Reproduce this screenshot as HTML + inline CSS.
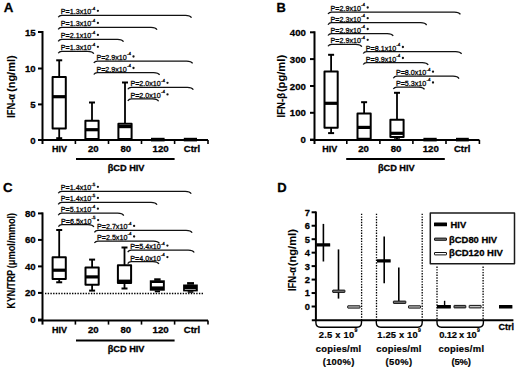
<!DOCTYPE html><html><head><meta charset="utf-8"><style>html,body{margin:0;padding:0;background:#fff;width:520px;height:371px;overflow:hidden;}text{stroke:#000;stroke-width:0.3px;}body{font-family:'Liberation Sans', sans-serif;position:relative;}</style></head><body><svg width="520" height="371" viewBox="0 0 520 371" style="position:absolute;left:0;top:0;font-family:'Liberation Sans', sans-serif">
<rect width="520" height="371" fill="#fff"/>
<g stroke-linejoin="round">
<text x="3.8" y="12.2" font-size="13.5" font-weight="bold" text-anchor="start" textLength="9.6" lengthAdjust="spacingAndGlyphs" >A</text>
<line x1="42.5" y1="31" x2="42.5" y2="144" stroke="#000" stroke-width="2" stroke-linecap="butt"/>
<line x1="38.0" y1="32" x2="42.5" y2="32" stroke="#000" stroke-width="2" />
<text x="35.6" y="35.5" font-size="9.8" font-weight="bold" text-anchor="end" textLength="10.7" lengthAdjust="spacingAndGlyphs" >15</text>
<line x1="38.0" y1="68.5" x2="42.5" y2="68.5" stroke="#000" stroke-width="2" />
<text x="35.6" y="72.0" font-size="9.8" font-weight="bold" text-anchor="end" textLength="10.7" lengthAdjust="spacingAndGlyphs" >10</text>
<line x1="38.0" y1="104.4" x2="42.5" y2="104.4" stroke="#000" stroke-width="2" />
<text x="35.6" y="107.9" font-size="9.8" font-weight="bold" text-anchor="end" textLength="5.35" lengthAdjust="spacingAndGlyphs" >5</text>
<line x1="38.0" y1="140" x2="42.5" y2="140" stroke="#000" stroke-width="2" />
<text x="35.6" y="143.5" font-size="9.8" font-weight="bold" text-anchor="end" textLength="5.35" lengthAdjust="spacingAndGlyphs" >0</text>
<line x1="38.0" y1="140" x2="208.0" y2="140" stroke="#000" stroke-width="2" />
<line x1="75.4" y1="140" x2="75.4" y2="144" stroke="#000" stroke-width="1.6" />
<line x1="108.5" y1="140" x2="108.5" y2="144" stroke="#000" stroke-width="1.6" />
<line x1="141.5" y1="140" x2="141.5" y2="144" stroke="#000" stroke-width="1.6" />
<line x1="174.6" y1="140" x2="174.6" y2="144" stroke="#000" stroke-width="1.6" />
<line x1="208.0" y1="140" x2="208.0" y2="144" stroke="#000" stroke-width="1.6" />
<text x="52.0" y="152" font-size="9.2" font-weight="bold" text-anchor="start" textLength="15.0" lengthAdjust="spacingAndGlyphs" >HIV</text>
<text x="88.0" y="152" font-size="9.2" font-weight="bold" text-anchor="start" textLength="10.7" lengthAdjust="spacingAndGlyphs" >20</text>
<text x="120.5" y="152" font-size="9.2" font-weight="bold" text-anchor="start" textLength="10.7" lengthAdjust="spacingAndGlyphs" >80</text>
<text x="152.5" y="152" font-size="9.2" font-weight="bold" text-anchor="start" textLength="16.2" lengthAdjust="spacingAndGlyphs" >120</text>
<text x="183.8" y="152" font-size="9.2" font-weight="bold" text-anchor="start" textLength="16.3" lengthAdjust="spacingAndGlyphs" >Ctrl</text>
<line x1="76.0" y1="159.0" x2="174.6" y2="159.0" stroke="#000" stroke-width="2" />
<text x="107.7" y="170.6" font-size="9.2" font-weight="bold" text-anchor="start" textLength="36.8" lengthAdjust="spacingAndGlyphs" >&#946;CD HIV</text>
<text transform="translate(14.7,117.8) rotate(-90)" x="0" y="0" font-size="10.0" font-weight="bold" style="stroke-width:0.1px" textLength="23.9" lengthAdjust="spacingAndGlyphs">IFN-&#945;</text>
<text transform="translate(14.7,92.0) rotate(-90)" x="0" y="0" font-size="10.0" font-weight="bold" style="stroke-width:0.1px" textLength="36.7" lengthAdjust="spacingAndGlyphs">(ng/ml)</text>
<line x1="59.2" y1="60.1" x2="59.2" y2="77.1" stroke="#000" stroke-width="1.8" />
<line x1="56.2" y1="60.300000000000004" x2="62.2" y2="60.300000000000004" stroke="#000" stroke-width="2" />
<line x1="59.2" y1="128.5" x2="59.2" y2="138.4" stroke="#000" stroke-width="1.8" />
<line x1="56.2" y1="138.20000000000002" x2="62.2" y2="138.20000000000002" stroke="#000" stroke-width="2" />
<rect x="52.6" y="77.1" width="13.2" height="51.4" fill="#fff" stroke="#000" stroke-width="2"/>
<line x1="52.6" y1="96.7" x2="65.8" y2="96.7" stroke="#000" stroke-width="3.2" stroke-linecap="butt"/>
<line x1="92.0" y1="102.3" x2="92.0" y2="120.8" stroke="#000" stroke-width="1.8" />
<line x1="89.0" y1="102.5" x2="95.0" y2="102.5" stroke="#000" stroke-width="2" />
<rect x="85.4" y="120.8" width="13.2" height="18.2" fill="#fff" stroke="#000" stroke-width="2"/>
<line x1="85.4" y1="129.7" x2="98.6" y2="129.7" stroke="#000" stroke-width="3.2" stroke-linecap="butt"/>
<line x1="125.0" y1="82.3" x2="125.0" y2="123.8" stroke="#000" stroke-width="1.8" />
<line x1="122.0" y1="82.5" x2="128.0" y2="82.5" stroke="#000" stroke-width="2" />
<rect x="118.4" y="123.8" width="13.2" height="15.2" fill="#fff" stroke="#000" stroke-width="2"/>
<line x1="118.4" y1="126.6" x2="131.6" y2="126.6" stroke="#000" stroke-width="3.2" stroke-linecap="butt"/>
<line x1="151" y1="139.6" x2="164.6" y2="139.6" stroke="#000" stroke-width="3.6" />
<line x1="183.8" y1="139.6" x2="197" y2="139.6" stroke="#000" stroke-width="3.6" />
<path d="M58.2,17.3 C59.0,15.9 60.0,15.3 61.8,15.3 L185.5,15.3 C188.9,15.3 190.5,15.8 191.5,17.7" fill="none" stroke="#111" stroke-width="1.25"/>
<text x="60.8" y="14.3" font-size="7.3" font-weight="normal" fill="#111" style="stroke-width:0.3px" textLength="30.4" lengthAdjust="spacingAndGlyphs">P=1.3x10</text>
<text x="91.3" y="9.7" font-size="4.4" font-weight="normal" fill="#111" style="stroke-width:0.3px" textLength="4" lengthAdjust="spacingAndGlyphs">-4</text>
<circle cx="97.9" cy="10.8" r="1.15" fill="#111"/>
<path d="M58.2,29.4 C59.0,28.0 60.0,27.4 61.8,27.4 L151.0,27.4 C154.4,27.4 156.0,27.9 157.0,29.8" fill="none" stroke="#111" stroke-width="1.25"/>
<text x="60.8" y="26.4" font-size="7.3" font-weight="normal" fill="#111" style="stroke-width:0.3px" textLength="30.4" lengthAdjust="spacingAndGlyphs">P=1.3x10</text>
<text x="91.3" y="21.8" font-size="4.4" font-weight="normal" fill="#111" style="stroke-width:0.3px" textLength="4" lengthAdjust="spacingAndGlyphs">-4</text>
<circle cx="97.9" cy="22.9" r="1.15" fill="#111"/>
<path d="M58.2,41.4 C59.0,40.0 60.0,39.4 61.8,39.4 L117.5,39.4 C120.9,39.4 122.5,39.9 123.5,41.8" fill="none" stroke="#111" stroke-width="1.25"/>
<text x="60.8" y="38.4" font-size="7.3" font-weight="normal" fill="#111" style="stroke-width:0.3px" textLength="30.4" lengthAdjust="spacingAndGlyphs">P=2.1x10</text>
<text x="91.3" y="33.8" font-size="4.4" font-weight="normal" fill="#111" style="stroke-width:0.3px" textLength="4" lengthAdjust="spacingAndGlyphs">-4</text>
<circle cx="97.9" cy="34.9" r="1.15" fill="#111"/>
<path d="M58.2,53.3 C59.0,51.9 60.0,51.3 61.8,51.3 L87.8,51.3 C91.2,51.3 92.8,51.8 93.8,53.7" fill="none" stroke="#111" stroke-width="1.25"/>
<text x="60.8" y="50.3" font-size="7.3" font-weight="normal" fill="#111" style="stroke-width:0.3px" textLength="30.4" lengthAdjust="spacingAndGlyphs">P=1.3x10</text>
<text x="91.3" y="45.7" font-size="4.4" font-weight="normal" fill="#111" style="stroke-width:0.3px" textLength="4" lengthAdjust="spacingAndGlyphs">-4</text>
<circle cx="97.9" cy="46.8" r="1.15" fill="#111"/>
<path d="M93.8,63.0 C94.6,61.6 95.6,61.0 97.4,61.0 L186.6,61.0 C190.0,61.0 191.6,61.5 192.6,63.4" fill="none" stroke="#111" stroke-width="1.25"/>
<text x="96.4" y="60.0" font-size="7.3" font-weight="normal" fill="#111" style="stroke-width:0.3px" textLength="30.4" lengthAdjust="spacingAndGlyphs">P=2.9x10</text>
<text x="126.9" y="55.4" font-size="4.4" font-weight="normal" fill="#111" style="stroke-width:0.3px" textLength="4" lengthAdjust="spacingAndGlyphs">-4</text>
<circle cx="133.5" cy="56.5" r="1.15" fill="#111"/>
<path d="M93.8,74.5 C94.6,73.1 95.6,72.5 97.4,72.5 L153.6,72.5 C157.0,72.5 158.6,73.0 159.6,74.9" fill="none" stroke="#111" stroke-width="1.25"/>
<text x="96.4" y="71.5" font-size="7.3" font-weight="normal" fill="#111" style="stroke-width:0.3px" textLength="30.4" lengthAdjust="spacingAndGlyphs">P=2.9x10</text>
<text x="126.9" y="66.9" font-size="4.4" font-weight="normal" fill="#111" style="stroke-width:0.3px" textLength="4" lengthAdjust="spacingAndGlyphs">-4</text>
<circle cx="133.5" cy="68.0" r="1.15" fill="#111"/>
<path d="M127.8,89.3 C128.6,87.9 129.6,87.3 131.4,87.3 L187.3,87.3 C190.7,87.3 192.3,87.8 193.3,89.7" fill="none" stroke="#111" stroke-width="1.25"/>
<text x="130.4" y="86.3" font-size="7.3" font-weight="normal" fill="#111" style="stroke-width:0.3px" textLength="30.4" lengthAdjust="spacingAndGlyphs">P=2.0x10</text>
<text x="160.9" y="81.7" font-size="4.4" font-weight="normal" fill="#111" style="stroke-width:0.3px" textLength="4" lengthAdjust="spacingAndGlyphs">-4</text>
<circle cx="167.5" cy="82.8" r="1.15" fill="#111"/>
<path d="M127.8,100.9 C128.6,99.5 129.6,98.9 131.4,98.9 L152.6,98.9 C156.0,98.9 157.6,99.4 158.6,101.3" fill="none" stroke="#111" stroke-width="1.25"/>
<text x="130.4" y="97.9" font-size="7.3" font-weight="normal" fill="#111" style="stroke-width:0.3px" textLength="30.4" lengthAdjust="spacingAndGlyphs">P=2.0x10</text>
<text x="160.9" y="93.3" font-size="4.4" font-weight="normal" fill="#111" style="stroke-width:0.3px" textLength="4" lengthAdjust="spacingAndGlyphs">-4</text>
<circle cx="167.5" cy="94.4" r="1.15" fill="#111"/>
<text x="276.4" y="12.2" font-size="13.5" font-weight="bold" text-anchor="start" textLength="9.3" lengthAdjust="spacingAndGlyphs" >B</text>
<line x1="314.5" y1="31.299999999999997" x2="314.5" y2="144" stroke="#000" stroke-width="2" stroke-linecap="butt"/>
<line x1="310.0" y1="32.3" x2="314.5" y2="32.3" stroke="#000" stroke-width="2" />
<text x="305.9" y="35.8" font-size="9.8" font-weight="bold" text-anchor="end" textLength="16.049999999999997" lengthAdjust="spacingAndGlyphs" >400</text>
<line x1="310.0" y1="59.1" x2="314.5" y2="59.1" stroke="#000" stroke-width="2" />
<text x="305.9" y="62.6" font-size="9.8" font-weight="bold" text-anchor="end" textLength="16.049999999999997" lengthAdjust="spacingAndGlyphs" >300</text>
<line x1="310.0" y1="86" x2="314.5" y2="86" stroke="#000" stroke-width="2" />
<text x="305.9" y="89.5" font-size="9.8" font-weight="bold" text-anchor="end" textLength="16.049999999999997" lengthAdjust="spacingAndGlyphs" >200</text>
<line x1="310.0" y1="112.8" x2="314.5" y2="112.8" stroke="#000" stroke-width="2" />
<text x="305.9" y="116.3" font-size="9.8" font-weight="bold" text-anchor="end" textLength="16.049999999999997" lengthAdjust="spacingAndGlyphs" >100</text>
<line x1="310.0" y1="139.6" x2="314.5" y2="139.6" stroke="#000" stroke-width="2" />
<text x="305.9" y="143.1" font-size="9.8" font-weight="bold" text-anchor="end" textLength="5.35" lengthAdjust="spacingAndGlyphs" >0</text>
<line x1="310.0" y1="140" x2="479.4" y2="140" stroke="#000" stroke-width="2" />
<line x1="346.79999999999995" y1="140" x2="346.79999999999995" y2="144" stroke="#000" stroke-width="1.6" />
<line x1="379.9" y1="140" x2="379.9" y2="144" stroke="#000" stroke-width="1.6" />
<line x1="412.9" y1="140" x2="412.9" y2="144" stroke="#000" stroke-width="1.6" />
<line x1="446.0" y1="140" x2="446.0" y2="144" stroke="#000" stroke-width="1.6" />
<line x1="479.4" y1="140" x2="479.4" y2="144" stroke="#000" stroke-width="1.6" />
<text x="322.2" y="152" font-size="9.2" font-weight="bold" text-anchor="start" textLength="15.0" lengthAdjust="spacingAndGlyphs" >HIV</text>
<text x="358.2" y="152" font-size="9.2" font-weight="bold" text-anchor="start" textLength="10.7" lengthAdjust="spacingAndGlyphs" >20</text>
<text x="390.7" y="152" font-size="9.2" font-weight="bold" text-anchor="start" textLength="10.7" lengthAdjust="spacingAndGlyphs" >80</text>
<text x="422.7" y="152" font-size="9.2" font-weight="bold" text-anchor="start" textLength="16.2" lengthAdjust="spacingAndGlyphs" >120</text>
<text x="454.0" y="152" font-size="9.2" font-weight="bold" text-anchor="start" textLength="16.3" lengthAdjust="spacingAndGlyphs" >Ctrl</text>
<line x1="346.2" y1="159.0" x2="444.8" y2="159.0" stroke="#000" stroke-width="2" />
<text x="377.9" y="170.6" font-size="9.2" font-weight="bold" text-anchor="start" textLength="36.8" lengthAdjust="spacingAndGlyphs" >&#946;CD HIV</text>
<text transform="translate(284.8,117.5) rotate(-90)" x="0" y="0" font-size="10.0" font-weight="bold" style="stroke-width:0.1px" textLength="24.6" lengthAdjust="spacingAndGlyphs">IFN-&#946;</text>
<text transform="translate(284.8,92.1) rotate(-90)" x="0" y="0" font-size="10.0" font-weight="bold" style="stroke-width:0.1px" textLength="37.2" lengthAdjust="spacingAndGlyphs">(pg/ml)</text>
<line x1="331.1" y1="54.6" x2="331.1" y2="71.5" stroke="#000" stroke-width="1.8" />
<line x1="328.1" y1="54.800000000000004" x2="334.1" y2="54.800000000000004" stroke="#000" stroke-width="2" />
<line x1="331.1" y1="127.7" x2="331.1" y2="133.3" stroke="#000" stroke-width="1.8" />
<line x1="328.1" y1="133.10000000000002" x2="334.1" y2="133.10000000000002" stroke="#000" stroke-width="2" />
<rect x="324.5" y="71.5" width="13.2" height="56.2" fill="#fff" stroke="#000" stroke-width="2"/>
<line x1="324.5" y1="103.3" x2="337.70000000000005" y2="103.3" stroke="#000" stroke-width="3.2" stroke-linecap="butt"/>
<line x1="364.1" y1="102" x2="364.1" y2="113.5" stroke="#000" stroke-width="1.8" />
<line x1="361.1" y1="102.2" x2="367.1" y2="102.2" stroke="#000" stroke-width="2" />
<rect x="357.5" y="113.5" width="13.2" height="25.3" fill="#fff" stroke="#000" stroke-width="2"/>
<line x1="357.5" y1="127.4" x2="370.70000000000005" y2="127.4" stroke="#000" stroke-width="3.2" stroke-linecap="butt"/>
<line x1="397.0" y1="92.6" x2="397.0" y2="119.8" stroke="#000" stroke-width="1.8" />
<line x1="394.0" y1="92.8" x2="400.0" y2="92.8" stroke="#000" stroke-width="2" />
<line x1="397.0" y1="136.9" x2="397.0" y2="139.5" stroke="#000" stroke-width="1.8" />
<line x1="394.0" y1="139.3" x2="400.0" y2="139.3" stroke="#000" stroke-width="2" />
<rect x="390.4" y="119.8" width="13.2" height="17.1" fill="#fff" stroke="#000" stroke-width="2"/>
<line x1="390.4" y1="133.3" x2="403.6" y2="133.3" stroke="#000" stroke-width="3.2" stroke-linecap="butt"/>
<line x1="423.4" y1="139.6" x2="436.7" y2="139.6" stroke="#000" stroke-width="3.6" />
<line x1="456" y1="139.6" x2="468.8" y2="139.6" stroke="#000" stroke-width="3.6" />
<path d="M328.0,14.0 C328.8,12.6 329.8,12.0 331.6,12.0 L454.4,12.0 C457.8,12.0 459.4,12.5 460.4,14.4" fill="none" stroke="#111" stroke-width="1.25"/>
<text x="330.6" y="11.0" font-size="7.3" font-weight="normal" fill="#111" style="stroke-width:0.3px" textLength="30.4" lengthAdjust="spacingAndGlyphs">P=2.9x10</text>
<text x="361.1" y="6.4" font-size="4.4" font-weight="normal" fill="#111" style="stroke-width:0.3px" textLength="4" lengthAdjust="spacingAndGlyphs">-4</text>
<circle cx="367.7" cy="7.5" r="1.15" fill="#111"/>
<path d="M328.0,24.7 C328.8,23.3 329.8,22.7 331.6,22.7 L420.6,22.7 C424.0,22.7 425.6,23.2 426.6,25.1" fill="none" stroke="#111" stroke-width="1.25"/>
<text x="330.6" y="21.7" font-size="7.3" font-weight="normal" fill="#111" style="stroke-width:0.3px" textLength="30.4" lengthAdjust="spacingAndGlyphs">P=2.3x10</text>
<text x="361.1" y="17.1" font-size="4.4" font-weight="normal" fill="#111" style="stroke-width:0.3px" textLength="4" lengthAdjust="spacingAndGlyphs">-4</text>
<circle cx="367.7" cy="18.2" r="1.15" fill="#111"/>
<path d="M328.0,35.5 C328.8,34.1 329.8,33.5 331.6,33.5 L387.2,33.5 C390.6,33.5 392.2,34.0 393.2,35.9" fill="none" stroke="#111" stroke-width="1.25"/>
<text x="330.6" y="32.5" font-size="7.3" font-weight="normal" fill="#111" style="stroke-width:0.3px" textLength="30.4" lengthAdjust="spacingAndGlyphs">P=2.9x10</text>
<text x="361.1" y="27.9" font-size="4.4" font-weight="normal" fill="#111" style="stroke-width:0.3px" textLength="4" lengthAdjust="spacingAndGlyphs">-4</text>
<circle cx="367.7" cy="29.0" r="1.15" fill="#111"/>
<path d="M328.0,46.3 C328.8,44.9 329.8,44.3 331.6,44.3 L355.8,44.3 C359.2,44.3 360.8,44.8 361.8,46.7" fill="none" stroke="#111" stroke-width="1.25"/>
<text x="330.6" y="43.3" font-size="7.3" font-weight="normal" fill="#111" style="stroke-width:0.3px" textLength="30.4" lengthAdjust="spacingAndGlyphs">P=2.9x10</text>
<text x="361.1" y="38.7" font-size="4.4" font-weight="normal" fill="#111" style="stroke-width:0.3px" textLength="4" lengthAdjust="spacingAndGlyphs">-4</text>
<circle cx="367.7" cy="39.8" r="1.15" fill="#111"/>
<path d="M363.2,53.5 C364.0,52.1 365.0,51.5 366.8,51.5 L455.6,51.5 C459.0,51.5 460.6,52.0 461.6,53.9" fill="none" stroke="#111" stroke-width="1.25"/>
<text x="365.8" y="50.5" font-size="7.3" font-weight="normal" fill="#111" style="stroke-width:0.3px" textLength="30.4" lengthAdjust="spacingAndGlyphs">P=8.1x10</text>
<text x="396.3" y="45.9" font-size="4.4" font-weight="normal" fill="#111" style="stroke-width:0.3px" textLength="4" lengthAdjust="spacingAndGlyphs">-4</text>
<circle cx="402.9" cy="47.0" r="1.15" fill="#111"/>
<path d="M363.2,64.5 C364.0,63.1 365.0,62.5 366.8,62.5 L422.2,62.5 C425.6,62.5 427.2,63.0 428.2,64.9" fill="none" stroke="#111" stroke-width="1.25"/>
<text x="365.8" y="61.5" font-size="7.3" font-weight="normal" fill="#111" style="stroke-width:0.3px" textLength="30.4" lengthAdjust="spacingAndGlyphs">P=9.9x10</text>
<text x="396.3" y="56.9" font-size="4.4" font-weight="normal" fill="#111" style="stroke-width:0.3px" textLength="4" lengthAdjust="spacingAndGlyphs">-4</text>
<circle cx="402.9" cy="58.0" r="1.15" fill="#111"/>
<path d="M393.3,78.2 C394.1,76.8 395.1,76.2 396.9,76.2 L453.0,76.2 C456.4,76.2 458.0,76.7 459.0,78.6" fill="none" stroke="#111" stroke-width="1.25"/>
<text x="395.9" y="75.2" font-size="7.3" font-weight="normal" fill="#111" style="stroke-width:0.3px" textLength="30.4" lengthAdjust="spacingAndGlyphs">P=8.0x10</text>
<text x="426.4" y="70.6" font-size="4.4" font-weight="normal" fill="#111" style="stroke-width:0.3px" textLength="4" lengthAdjust="spacingAndGlyphs">-4</text>
<circle cx="433.0" cy="71.7" r="1.15" fill="#111"/>
<path d="M393.3,89.0 C394.1,87.6 395.1,87.0 396.9,87.0 L418.5,87.0 C421.9,87.0 423.5,87.5 424.5,89.4" fill="none" stroke="#111" stroke-width="1.25"/>
<text x="395.9" y="86.0" font-size="7.3" font-weight="normal" fill="#111" style="stroke-width:0.3px" textLength="30.4" lengthAdjust="spacingAndGlyphs">P=5.3x10</text>
<text x="426.4" y="81.4" font-size="4.4" font-weight="normal" fill="#111" style="stroke-width:0.3px" textLength="4" lengthAdjust="spacingAndGlyphs">-4</text>
<circle cx="433.0" cy="82.5" r="1.15" fill="#111"/>
<text x="3.1" y="192.1" font-size="13.5" font-weight="bold" text-anchor="start" textLength="9.6" lengthAdjust="spacingAndGlyphs" >C</text>
<line x1="42.5" y1="212.4" x2="42.5" y2="324.6" stroke="#000" stroke-width="2" stroke-linecap="butt"/>
<line x1="38.0" y1="213.4" x2="42.5" y2="213.4" stroke="#000" stroke-width="2" />
<text x="35.6" y="216.9" font-size="9.8" font-weight="bold" text-anchor="end" textLength="10.7" lengthAdjust="spacingAndGlyphs" >80</text>
<line x1="38.0" y1="239.9" x2="42.5" y2="239.9" stroke="#000" stroke-width="2" />
<text x="35.6" y="243.4" font-size="9.8" font-weight="bold" text-anchor="end" textLength="10.7" lengthAdjust="spacingAndGlyphs" >60</text>
<line x1="38.0" y1="266.4" x2="42.5" y2="266.4" stroke="#000" stroke-width="2" />
<text x="35.6" y="269.9" font-size="9.8" font-weight="bold" text-anchor="end" textLength="10.7" lengthAdjust="spacingAndGlyphs" >40</text>
<line x1="38.0" y1="292.9" x2="42.5" y2="292.9" stroke="#000" stroke-width="2" />
<text x="35.6" y="296.4" font-size="9.8" font-weight="bold" text-anchor="end" textLength="10.7" lengthAdjust="spacingAndGlyphs" >20</text>
<line x1="38.0" y1="319.6" x2="42.5" y2="319.6" stroke="#000" stroke-width="2" />
<text x="35.6" y="323.1" font-size="9.8" font-weight="bold" text-anchor="end" textLength="5.35" lengthAdjust="spacingAndGlyphs" >0</text>
<line x1="38.0" y1="320.6" x2="208.0" y2="320.6" stroke="#000" stroke-width="2" />
<line x1="75.4" y1="320.6" x2="75.4" y2="324.6" stroke="#000" stroke-width="1.6" />
<line x1="108.5" y1="320.6" x2="108.5" y2="324.6" stroke="#000" stroke-width="1.6" />
<line x1="141.5" y1="320.6" x2="141.5" y2="324.6" stroke="#000" stroke-width="1.6" />
<line x1="174.6" y1="320.6" x2="174.6" y2="324.6" stroke="#000" stroke-width="1.6" />
<line x1="208.0" y1="320.6" x2="208.0" y2="324.6" stroke="#000" stroke-width="1.6" />
<text x="52.0" y="332.6" font-size="9.2" font-weight="bold" text-anchor="start" textLength="15.0" lengthAdjust="spacingAndGlyphs" >HIV</text>
<text x="88.0" y="332.6" font-size="9.2" font-weight="bold" text-anchor="start" textLength="10.7" lengthAdjust="spacingAndGlyphs" >20</text>
<text x="120.5" y="332.6" font-size="9.2" font-weight="bold" text-anchor="start" textLength="10.7" lengthAdjust="spacingAndGlyphs" >80</text>
<text x="152.5" y="332.6" font-size="9.2" font-weight="bold" text-anchor="start" textLength="16.2" lengthAdjust="spacingAndGlyphs" >120</text>
<text x="183.8" y="332.6" font-size="9.2" font-weight="bold" text-anchor="start" textLength="16.3" lengthAdjust="spacingAndGlyphs" >Ctrl</text>
<line x1="76.0" y1="340.6" x2="174.6" y2="340.6" stroke="#000" stroke-width="2" />
<text x="107.7" y="352.2" font-size="9.2" font-weight="bold" text-anchor="start" textLength="36.8" lengthAdjust="spacingAndGlyphs" >&#946;CD HIV</text>
<text transform="translate(14.6,308.4) rotate(-90)" x="0" y="0" font-size="10.0" font-weight="bold" style="stroke-width:0.1px" textLength="38.6" lengthAdjust="spacingAndGlyphs">KYN/TRP</text>
<text transform="translate(14.6,268.3) rotate(-90)" x="0" y="0" font-size="10.0" font-weight="bold" style="stroke-width:0.1px" textLength="55.5" lengthAdjust="spacingAndGlyphs">(&#956;mol/mmol)</text>
<line x1="45" y1="293.4" x2="203.5" y2="293.4" stroke="#000" stroke-width="1.5" stroke-dasharray="1.4 1.3"/>
<line x1="59.2" y1="229.8" x2="59.2" y2="257.2" stroke="#000" stroke-width="1.8" />
<line x1="56.2" y1="230.0" x2="62.2" y2="230.0" stroke="#000" stroke-width="2" />
<line x1="59.2" y1="279" x2="59.2" y2="282.5" stroke="#000" stroke-width="1.8" />
<line x1="56.2" y1="282.3" x2="62.2" y2="282.3" stroke="#000" stroke-width="2" />
<rect x="52.6" y="257.2" width="13.2" height="21.8" fill="#fff" stroke="#000" stroke-width="2"/>
<line x1="52.6" y1="270.2" x2="65.8" y2="270.2" stroke="#000" stroke-width="3.2" stroke-linecap="butt"/>
<line x1="92.1" y1="259.4" x2="92.1" y2="267.6" stroke="#000" stroke-width="1.8" />
<line x1="89.1" y1="259.59999999999997" x2="95.1" y2="259.59999999999997" stroke="#000" stroke-width="2" />
<line x1="92.1" y1="284.7" x2="92.1" y2="290.8" stroke="#000" stroke-width="1.8" />
<line x1="89.1" y1="290.6" x2="95.1" y2="290.6" stroke="#000" stroke-width="2" />
<rect x="85.5" y="267.6" width="13.2" height="17.1" fill="#fff" stroke="#000" stroke-width="2"/>
<line x1="85.5" y1="276.9" x2="98.69999999999999" y2="276.9" stroke="#000" stroke-width="3.2" stroke-linecap="butt"/>
<line x1="124.5" y1="247.3" x2="124.5" y2="265.2" stroke="#000" stroke-width="1.8" />
<line x1="121.5" y1="247.5" x2="127.5" y2="247.5" stroke="#000" stroke-width="2" />
<line x1="124.5" y1="283" x2="124.5" y2="288.7" stroke="#000" stroke-width="1.8" />
<line x1="121.5" y1="288.5" x2="127.5" y2="288.5" stroke="#000" stroke-width="2" />
<rect x="117.9" y="265.2" width="13.2" height="17.8" fill="#fff" stroke="#000" stroke-width="2"/>
<line x1="117.9" y1="281.2" x2="131.1" y2="281.2" stroke="#000" stroke-width="3.2" stroke-linecap="butt"/>
<rect x="149.8" y="280.3" width="15.0" height="10.4" fill="#000" />
<rect x="154.2" y="278.3" width="6.4" height="2.5" fill="#000" />
<rect x="154.8" y="290.5" width="5.2" height="1.8" fill="#000" />
<rect x="151.9" y="283.0" width="11.0" height="3.4" fill="#fff" />
<rect x="183.1" y="284.5" width="14.7" height="6.9" fill="#000" />
<rect x="187.1" y="282.1" width="6.9" height="2.6" fill="#000" />
<rect x="187.7" y="291.2" width="5.7" height="1.6" fill="#000" />
<rect x="184.8" y="289.1" width="10.9" height="0.8" fill="#bbb" />
<path d="M58.2,193.3 C59.0,191.9 60.0,191.3 61.8,191.3 L185.2,191.3 C188.6,191.3 190.2,191.8 191.2,193.7" fill="none" stroke="#111" stroke-width="1.25"/>
<text x="60.8" y="190.3" font-size="7.3" font-weight="normal" fill="#111" style="stroke-width:0.3px" textLength="30.4" lengthAdjust="spacingAndGlyphs">P=1.4x10</text>
<text x="91.3" y="185.7" font-size="4.4" font-weight="normal" fill="#111" style="stroke-width:0.3px" textLength="4" lengthAdjust="spacingAndGlyphs">-5</text>
<circle cx="97.9" cy="186.8" r="1.15" fill="#111"/>
<path d="M58.2,204.4 C59.0,203.0 60.0,202.4 61.8,202.4 L151.0,202.4 C154.4,202.4 156.0,202.9 157.0,204.8" fill="none" stroke="#111" stroke-width="1.25"/>
<text x="60.8" y="201.4" font-size="7.3" font-weight="normal" fill="#111" style="stroke-width:0.3px" textLength="30.4" lengthAdjust="spacingAndGlyphs">P=1.4x10</text>
<text x="91.3" y="196.8" font-size="4.4" font-weight="normal" fill="#111" style="stroke-width:0.3px" textLength="4" lengthAdjust="spacingAndGlyphs">-5</text>
<circle cx="97.9" cy="197.9" r="1.15" fill="#111"/>
<path d="M58.2,215.2 C59.0,213.8 60.0,213.2 61.8,213.2 L117.7,213.2 C121.1,213.2 122.7,213.7 123.7,215.6" fill="none" stroke="#111" stroke-width="1.25"/>
<text x="60.8" y="212.2" font-size="7.3" font-weight="normal" fill="#111" style="stroke-width:0.3px" textLength="30.4" lengthAdjust="spacingAndGlyphs">P=5.1x10</text>
<text x="91.3" y="207.6" font-size="4.4" font-weight="normal" fill="#111" style="stroke-width:0.3px" textLength="4" lengthAdjust="spacingAndGlyphs">-4</text>
<circle cx="97.9" cy="208.7" r="1.15" fill="#111"/>
<path d="M58.4,226.6 C59.2,225.2 60.2,224.6 62.0,224.6 L87.9,224.6 C91.3,224.6 92.9,225.1 93.9,227.0" fill="none" stroke="#111" stroke-width="1.25"/>
<text x="61.0" y="223.6" font-size="7.3" font-weight="normal" fill="#111" style="stroke-width:0.3px" textLength="30.4" lengthAdjust="spacingAndGlyphs">P=6.5x10</text>
<text x="91.5" y="219.0" font-size="4.4" font-weight="normal" fill="#111" style="stroke-width:0.3px" textLength="4" lengthAdjust="spacingAndGlyphs">-5</text>
<circle cx="98.1" cy="220.1" r="1.15" fill="#111"/>
<path d="M94.4,232.4 C95.2,231.0 96.2,230.4 98.0,230.4 L186.1,230.4 C189.5,230.4 191.1,230.9 192.1,232.8" fill="none" stroke="#111" stroke-width="1.25"/>
<text x="97.0" y="229.4" font-size="7.3" font-weight="normal" fill="#111" style="stroke-width:0.3px" textLength="30.4" lengthAdjust="spacingAndGlyphs">P=2.7x10</text>
<text x="127.5" y="224.8" font-size="4.4" font-weight="normal" fill="#111" style="stroke-width:0.3px" textLength="4" lengthAdjust="spacingAndGlyphs">-4</text>
<circle cx="134.1" cy="225.9" r="1.15" fill="#111"/>
<path d="M94.4,243.0 C95.2,241.6 96.2,241.0 98.0,241.0 L153.4,241.0 C156.8,241.0 158.4,241.5 159.4,243.4" fill="none" stroke="#111" stroke-width="1.25"/>
<text x="97.0" y="240.0" font-size="7.3" font-weight="normal" fill="#111" style="stroke-width:0.3px" textLength="30.4" lengthAdjust="spacingAndGlyphs">P=2.5x10</text>
<text x="127.5" y="235.4" font-size="4.4" font-weight="normal" fill="#111" style="stroke-width:0.3px" textLength="4" lengthAdjust="spacingAndGlyphs">-4</text>
<circle cx="134.1" cy="236.5" r="1.15" fill="#111"/>
<path d="M127.7,252.1 C128.5,250.7 129.5,250.1 131.3,250.1 L188.2,250.1 C191.6,250.1 193.2,250.6 194.2,252.5" fill="none" stroke="#111" stroke-width="1.25"/>
<text x="130.3" y="249.1" font-size="7.3" font-weight="normal" fill="#111" style="stroke-width:0.3px" textLength="30.4" lengthAdjust="spacingAndGlyphs">P=5.4x10</text>
<text x="160.8" y="244.5" font-size="4.4" font-weight="normal" fill="#111" style="stroke-width:0.3px" textLength="4" lengthAdjust="spacingAndGlyphs">-4</text>
<circle cx="167.4" cy="245.6" r="1.15" fill="#111"/>
<path d="M127.7,263.6 C128.5,262.2 129.5,261.6 131.3,261.6 L152.9,261.6 C156.3,261.6 157.9,262.1 158.9,264.0" fill="none" stroke="#111" stroke-width="1.25"/>
<text x="130.3" y="260.6" font-size="7.3" font-weight="normal" fill="#111" style="stroke-width:0.3px" textLength="30.4" lengthAdjust="spacingAndGlyphs">P=4.0x10</text>
<text x="160.8" y="256.0" font-size="4.4" font-weight="normal" fill="#111" style="stroke-width:0.3px" textLength="4" lengthAdjust="spacingAndGlyphs">-4</text>
<circle cx="167.4" cy="257.1" r="1.15" fill="#111"/>
<text x="277.3" y="192.3" font-size="13" font-weight="bold" text-anchor="start" >D</text>
<line x1="315.9" y1="211.5" x2="315.9" y2="321" stroke="#000" stroke-width="2" stroke-linecap="butt"/>
<line x1="311.59999999999997" y1="306.5" x2="315.9" y2="306.5" stroke="#000" stroke-width="2" />
<text x="309.9" y="309.9" font-size="9.8" font-weight="bold" text-anchor="end" textLength="5.2" lengthAdjust="spacingAndGlyphs" >0</text>
<line x1="311.59999999999997" y1="293.04" x2="315.9" y2="293.04" stroke="#000" stroke-width="2" />
<text x="309.9" y="296.44" font-size="9.8" font-weight="bold" text-anchor="end" textLength="5.2" lengthAdjust="spacingAndGlyphs" >1</text>
<line x1="311.59999999999997" y1="279.58" x2="315.9" y2="279.58" stroke="#000" stroke-width="2" />
<text x="309.9" y="282.97999999999996" font-size="9.8" font-weight="bold" text-anchor="end" textLength="5.2" lengthAdjust="spacingAndGlyphs" >2</text>
<line x1="311.59999999999997" y1="266.12" x2="315.9" y2="266.12" stroke="#000" stroke-width="2" />
<text x="309.9" y="269.52" font-size="9.8" font-weight="bold" text-anchor="end" textLength="5.2" lengthAdjust="spacingAndGlyphs" >3</text>
<line x1="311.59999999999997" y1="252.66" x2="315.9" y2="252.66" stroke="#000" stroke-width="2" />
<text x="309.9" y="256.06" font-size="9.8" font-weight="bold" text-anchor="end" textLength="5.2" lengthAdjust="spacingAndGlyphs" >4</text>
<line x1="311.59999999999997" y1="239.2" x2="315.9" y2="239.2" stroke="#000" stroke-width="2" />
<text x="309.9" y="242.6" font-size="9.8" font-weight="bold" text-anchor="end" textLength="5.2" lengthAdjust="spacingAndGlyphs" >5</text>
<line x1="311.59999999999997" y1="225.74" x2="315.9" y2="225.74" stroke="#000" stroke-width="2" />
<text x="309.9" y="229.14000000000001" font-size="9.8" font-weight="bold" text-anchor="end" textLength="5.2" lengthAdjust="spacingAndGlyphs" >6</text>
<line x1="311.59999999999997" y1="212.28" x2="315.9" y2="212.28" stroke="#000" stroke-width="2" />
<text x="309.9" y="215.68" font-size="9.8" font-weight="bold" text-anchor="end" textLength="5.2" lengthAdjust="spacingAndGlyphs" >7</text>
<line x1="311.8" y1="320.3" x2="513.4" y2="320.3" stroke="#000" stroke-width="2" />
<text transform="translate(296.0,291.1) rotate(-90)" x="0" y="0" font-size="10.0" font-weight="bold" style="stroke-width:0.1px" textLength="24.2" lengthAdjust="spacingAndGlyphs">IFN-&#945;</text>
<text transform="translate(296.0,266.3) rotate(-90)" x="0" y="0" font-size="10.0" font-weight="bold" style="stroke-width:0.1px" textLength="37.2" lengthAdjust="spacingAndGlyphs">(ng/ml)</text>
<line x1="361.6" y1="213.7" x2="361.6" y2="320" stroke="#000" stroke-width="1.3" stroke-dasharray="1.4 1.3"/>
<line x1="376.5" y1="213.7" x2="376.5" y2="320" stroke="#000" stroke-width="1.3" stroke-dasharray="1.4 1.3"/>
<line x1="422.2" y1="213.7" x2="422.2" y2="320" stroke="#000" stroke-width="1.3" stroke-dasharray="1.4 1.3"/>
<line x1="437.0" y1="266.5" x2="437.0" y2="320" stroke="#000" stroke-width="1.3" stroke-dasharray="1.4 1.3"/>
<line x1="483.1" y1="266.5" x2="483.1" y2="320" stroke="#000" stroke-width="1.3" stroke-dasharray="1.4 1.3"/>
<path d="M315.9,320.3 L315.9,322.5 C315.9,325.8 317.09999999999997,327.2 320.4,327.2 L357.0,327.2 C360.3,327.2 361.5,325.8 361.5,322.5 L361.5,320.3" fill="none" stroke="#000" stroke-width="1.4"/>
<path d="M376.3,320.3 L376.3,322.5 C376.3,325.8 377.5,327.2 380.8,327.2 L417.7,327.2 C421.0,327.2 422.2,325.8 422.2,322.5 L422.2,320.3" fill="none" stroke="#000" stroke-width="1.4"/>
<path d="M437.0,320.3 L437.0,322.5 C437.0,325.8 438.2,327.2 441.5,327.2 L478.9,327.2 C482.2,327.2 483.4,325.8 483.4,322.5 L483.4,320.3" fill="none" stroke="#000" stroke-width="1.4"/>
<line x1="323.4" y1="223.9" x2="323.4" y2="261.5" stroke="#000" stroke-width="1.6" />
<rect x="316.3" y="243.3" width="13.9" height="3.3" fill="#000" rx="0.3"/>
<line x1="338.5" y1="249.4" x2="338.5" y2="298.6" stroke="#000" stroke-width="1.6" />
<rect x="332.7" y="290.1" width="12.2" height="2.3" fill="#777" stroke="#111" stroke-width="1" rx="0.3"/>
<rect x="347.7" y="305.8" width="12.3" height="2.3" fill="#c2c2c2" stroke="#111" stroke-width="1" rx="0.3"/>
<line x1="384.2" y1="236.5" x2="384.2" y2="283.3" stroke="#000" stroke-width="1.6" />
<rect x="377.0" y="259.2" width="13.7" height="3.3" fill="#000" rx="0.3"/>
<line x1="398.8" y1="267.5" x2="398.8" y2="301.5" stroke="#000" stroke-width="1.6" />
<rect x="393.4" y="301.1" width="12.4" height="2.3" fill="#777" stroke="#111" stroke-width="1" rx="0.3"/>
<rect x="408.5" y="305.8" width="12.0" height="2.3" fill="#c2c2c2" stroke="#111" stroke-width="1" rx="0.3"/>
<line x1="444.6" y1="300.8" x2="444.6" y2="306" stroke="#000" stroke-width="1.4" />
<rect x="436.9" y="304.9" width="14.0" height="3.5" fill="#000" rx="0.3"/>
<rect x="454.0" y="305.4" width="11.8" height="2.5" fill="#777" stroke="#111" stroke-width="1" rx="0.3"/>
<rect x="469.2" y="305.4" width="11.9" height="2.5" fill="#c2c2c2" stroke="#111" stroke-width="1" rx="0.3"/>
<rect x="499.0" y="304.9" width="13.4" height="3.7" fill="#000" rx="0.3"/>
<text x="498.6" y="329.8" font-size="9.6" font-weight="bold" text-anchor="start" textLength="15.5" lengthAdjust="spacingAndGlyphs" >Ctrl</text>
<rect x="430.3" y="212.9" width="84.2" height="50.9" fill="#fff" stroke="#1a1a1a" stroke-width="1.5"/>
<rect x="434.0" y="222.6" width="13.0" height="3.6" fill="#000" rx="0.3"/>
<rect x="434.5" y="238.1" width="12.0" height="2.2" fill="#777" stroke="#111" stroke-width="1" rx="0.3"/>
<rect x="434.5" y="252.5" width="12.0" height="2.4" fill="#fff" stroke="#111" stroke-width="1" rx="0.3"/>
<text x="450.6" y="228.3" font-size="9.8" font-weight="bold" text-anchor="start" textLength="15.6" lengthAdjust="spacingAndGlyphs" >HIV</text>
<text x="449.1" y="242.6" font-size="9.8" font-weight="bold" text-anchor="start" textLength="48.0" lengthAdjust="spacingAndGlyphs" >&#946;CD80 HIV</text>
<text x="449.1" y="256.4" font-size="9.8" font-weight="bold" text-anchor="start" textLength="53.8" lengthAdjust="spacingAndGlyphs" >&#946;CD120 HIV</text>
<text x="336.4" y="338.2" font-size="9.4" font-weight="bold" text-anchor="middle" textLength="35.4" lengthAdjust="spacing" style="stroke-width:0.2px">2.5 x 10</text>
<text x="354.4" y="332.2" font-size="5.2" font-weight="bold" style="stroke-width:0.2px">9</text>
<text x="338.5" y="351.7" font-size="9.4" font-weight="bold" text-anchor="middle" textLength="45.4" lengthAdjust="spacing" style="stroke-width:0.2px">copies/ml</text>
<text x="338.5" y="365.1" font-size="9.4" font-weight="bold" text-anchor="middle" textLength="31.5" lengthAdjust="spacing" style="stroke-width:0.2px">(100%)</text>
<text x="397.5" y="338.2" font-size="9.4" font-weight="bold" text-anchor="middle" textLength="40.4" lengthAdjust="spacing" style="stroke-width:0.2px">1.25 x 10</text>
<text x="418.0" y="332.2" font-size="5.2" font-weight="bold" style="stroke-width:0.2px">9</text>
<text x="398.8" y="351.7" font-size="9.4" font-weight="bold" text-anchor="middle" textLength="45.0" lengthAdjust="spacing" style="stroke-width:0.2px">copies/ml</text>
<text x="398.8" y="365.1" font-size="9.4" font-weight="bold" text-anchor="middle" textLength="26.8" lengthAdjust="spacing" style="stroke-width:0.2px">(50%)</text>
<text x="458.0" y="338.2" font-size="9.4" font-weight="bold" text-anchor="middle" textLength="37.5" lengthAdjust="spacing" style="stroke-width:0.2px">0.12 x 10</text>
<text x="477.1" y="332.2" font-size="5.2" font-weight="bold" style="stroke-width:0.2px">9</text>
<text x="461.2" y="351.7" font-size="9.4" font-weight="bold" text-anchor="middle" textLength="45.6" lengthAdjust="spacing" style="stroke-width:0.2px">copies/ml</text>
<text x="461.2" y="365.1" font-size="9.4" font-weight="bold" text-anchor="middle" textLength="19.4" lengthAdjust="spacing" style="stroke-width:0.2px">(5%)</text>
</g></svg></body></html>
